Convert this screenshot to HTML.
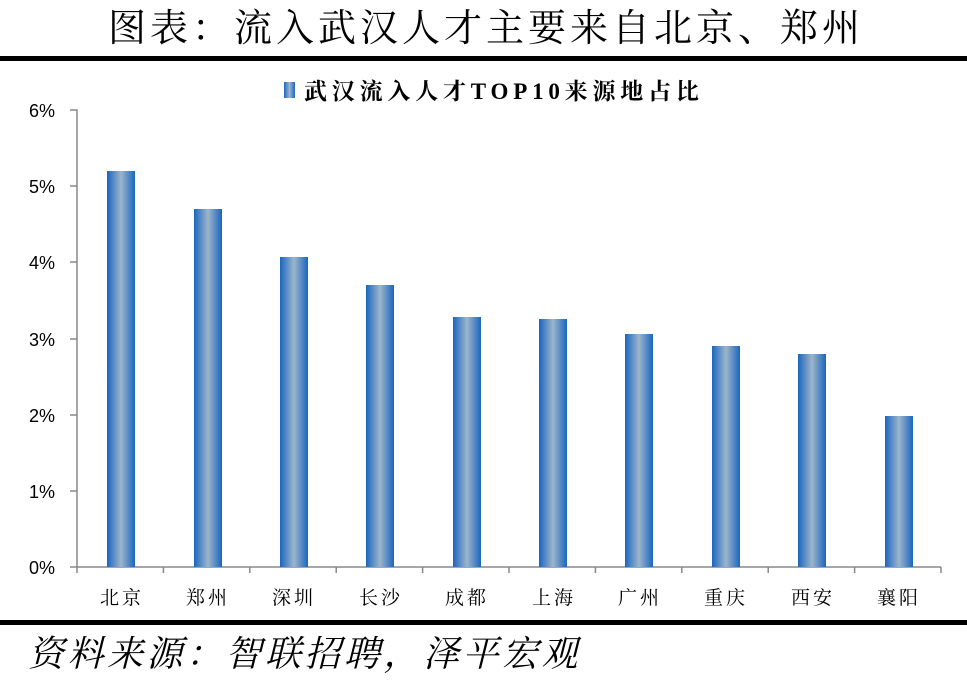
<!DOCTYPE html>
<html><head><meta charset="utf-8"><style>
body{margin:0;width:967px;height:691px;background:#fff;position:relative;overflow:hidden;font-family:"Liberation Sans","Noto Sans CJK SC",sans-serif}
.t{position:absolute;left:108px;top:6px;font:38px "Liberation Serif","Noto Serif CJK SC",serif;letter-spacing:4px;color:#000;line-height:46px;white-space:nowrap}
.f{position:absolute;left:28px;top:630px;font:italic 36px "Liberation Serif","Noto Serif CJK SC",serif;letter-spacing:3.5px;line-height:48px}
.hl{position:absolute;left:0;width:967px;height:5px;background:#000}
</style></head><body>
<div class="t">图表：流入武汉人才主要来自北京、郑州</div>
<div class="hl" style="top:56px"></div>
<div class="hl" style="top:620px"></div>
<div class="f">资料来源：智联招聘，泽平宏观</div>
<svg width="967" height="691" style="position:absolute;left:0;top:0">
<defs><linearGradient id="g" x1="0" x2="1" y1="0" y2="0">
<stop offset="0" stop-color="#1a66c0"/><stop offset="0.5" stop-color="#9db5cb"/><stop offset="1" stop-color="#1a66c0"/></linearGradient></defs>
<rect x="284" y="82" width="11" height="16" fill="url(#g)"/>
<text x="304" y="99" font-family="Liberation Serif,Noto Serif CJK SC,serif" font-weight="bold" font-size="23" letter-spacing="4.8">武汉流入人才TOP10来源地占比</text>
<g stroke="#888" stroke-width="1.5" fill="none">
<path d="M70 110H77V567M70 186H77M70 262H77M70 339H77M70 415H77M70 491H77M70 567H941"/>
<path d="M77 567v6M163.4 567v6M249.8 567v6M336.2 567v6M422.6 567v6M509 567v6M595.4 567v6M681.8 567v6M768.2 567v6M854.6 567v6M941 567v6"/>
</g>
<g font-size="18" text-anchor="end" fill="#000">
<text x="55" y="117">6%</text><text x="55" y="193">5%</text><text x="55" y="269">4%</text><text x="55" y="346">3%</text><text x="55" y="422">2%</text><text x="55" y="498">1%</text><text x="55" y="574">0%</text>
</g>
<g fill="url(#g)">
<rect x="107" y="171" width="28" height="396"/>
<rect x="194" y="209" width="28" height="358"/>
<rect x="280" y="257" width="28" height="310"/>
<rect x="366" y="285" width="28" height="282"/>
<rect x="453" y="317" width="28" height="250"/>
<rect x="539" y="319" width="28" height="248"/>
<rect x="625" y="334" width="28" height="233"/>
<rect x="712" y="346" width="28" height="221"/>
<rect x="798" y="354" width="28" height="213"/>
<rect x="885" y="416" width="28" height="151"/>
</g>
<g font-family="Liberation Serif,Noto Serif CJK SC,serif" font-size="19" text-anchor="middle" letter-spacing="3">
<text x="122" y="604">北京</text><text x="208" y="604">郑州</text><text x="294" y="604">深圳</text><text x="381" y="604">长沙</text><text x="467" y="604">成都</text><text x="554" y="604">上海</text><text x="640" y="604">广州</text><text x="726" y="604">重庆</text><text x="813" y="604">西安</text><text x="899" y="604">襄阳</text>
</g>
</svg>
</body></html>
